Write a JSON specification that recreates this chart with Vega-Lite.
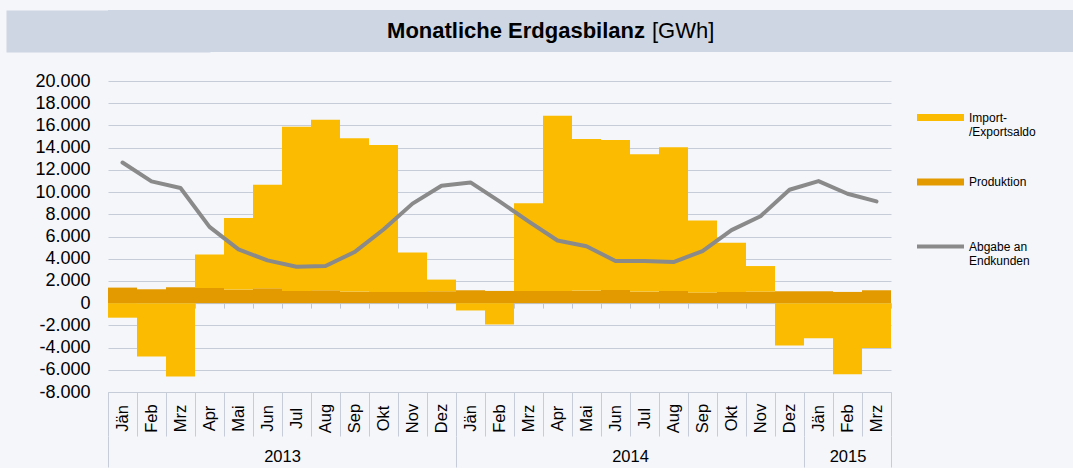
{
  "$schema": "https://vega.github.io/schema/vega-lite/v6.json",
  "background": "#f4f6fa",
  "padding": {"left": 6, "top": 10, "right": 0, "bottom": 0},
  "config": {
    "font": "Liberation Sans",
    "view": {"stroke": null},
    "axisY": {"labelOverlap": false, "tickCount": 30},
    "locale": {"number": {"decimal": ",", "thousands": ".", "grouping": [3], "currency": ["", " €"], "minus": "-"}}
  },
  "spacing": 20,
  "vconcat": [
    {
      "width": 965,
      "height": 42,
      "view": {"fill": "#cdd6e2", "stroke": null},
      "data": {"values": [{}]},
      "layer": [
        {"mark": {"type": "text", "align": "right", "baseline": "middle", "dx": 54.5, "fontSize": 22, "fontWeight": "bold", "font": "Liberation Sans", "color": "#000000"},
         "encoding": {
           "text": {"value": "Monatliche Erdgasbilanz"},
           "y": {"datum": 0, "type": "quantitative", "scale": {"domain": [-1, 1], "nice": false},
                 "axis": {"orient": "left", "title": null, "labels": false, "ticks": false, "grid": false,
                          "domain": true, "domainColor": "#cdd6e2", "domainWidth": 204, "domainCap": "butt", "minExtent": 102}}
         }},
        {"mark": {"type": "text", "align": "left", "baseline": "middle", "dx": 61.5, "fontSize": 22, "fontWeight": "normal", "font": "Liberation Sans", "color": "#000000"},
         "encoding": {"text": {"value": "[GWh]"}, "y": {"datum": 0, "type": "quantitative"}}}
      ]
    },
    {
      "width": 783,
      "height": 311,
      "data": {"values": [
        {"monat": "Jän 2013", "serie": "Produktion", "wert": 1400}, {"monat": "Jän 2013", "serie": "Import-/Exportsaldo", "wert": -1310}, {"monat": "Jän 2013", "serie": "Abgabe an Endkunden", "wert": 12660},
        {"monat": "Feb 2013", "serie": "Produktion", "wert": 1250}, {"monat": "Feb 2013", "serie": "Import-/Exportsaldo", "wert": -4810}, {"monat": "Feb 2013", "serie": "Abgabe an Endkunden", "wert": 10960},
        {"monat": "Mrz 2013", "serie": "Produktion", "wert": 1430}, {"monat": "Mrz 2013", "serie": "Import-/Exportsaldo", "wert": -6600}, {"monat": "Mrz 2013", "serie": "Abgabe an Endkunden", "wert": 10360},
        {"monat": "Apr 2013", "serie": "Produktion", "wert": 1370}, {"monat": "Apr 2013", "serie": "Import-/Exportsaldo", "wert": 3020}, {"monat": "Apr 2013", "serie": "Abgabe an Endkunden", "wert": 6870},
        {"monat": "Mai 2013", "serie": "Produktion", "wert": 1220}, {"monat": "Mai 2013", "serie": "Import-/Exportsaldo", "wert": 6450}, {"monat": "Mai 2013", "serie": "Abgabe an Endkunden", "wert": 4840},
        {"monat": "Jun 2013", "serie": "Produktion", "wert": 1340}, {"monat": "Jun 2013", "serie": "Import-/Exportsaldo", "wert": 9320}, {"monat": "Jun 2013", "serie": "Abgabe an Endkunden", "wert": 3850},
        {"monat": "Jul 2013", "serie": "Produktion", "wert": 1100}, {"monat": "Jul 2013", "serie": "Import-/Exportsaldo", "wert": 14780}, {"monat": "Jul 2013", "serie": "Abgabe an Endkunden", "wert": 3280},
        {"monat": "Aug 2013", "serie": "Produktion", "wert": 1160}, {"monat": "Aug 2013", "serie": "Import-/Exportsaldo", "wert": 15350}, {"monat": "Aug 2013", "serie": "Abgabe an Endkunden", "wert": 3340},
        {"monat": "Sep 2013", "serie": "Produktion", "wert": 1040}, {"monat": "Sep 2013", "serie": "Import-/Exportsaldo", "wert": 13800}, {"monat": "Sep 2013", "serie": "Abgabe an Endkunden", "wert": 4600},
        {"monat": "Okt 2013", "serie": "Produktion", "wert": 1010}, {"monat": "Okt 2013", "serie": "Import-/Exportsaldo", "wert": 13230}, {"monat": "Okt 2013", "serie": "Abgabe an Endkunden", "wert": 6630},
        {"monat": "Nov 2013", "serie": "Produktion", "wert": 1010}, {"monat": "Nov 2013", "serie": "Import-/Exportsaldo", "wert": 3560}, {"monat": "Nov 2013", "serie": "Abgabe an Endkunden", "wert": 8960},
        {"monat": "Dez 2013", "serie": "Produktion", "wert": 1070}, {"monat": "Dez 2013", "serie": "Import-/Exportsaldo", "wert": 1050}, {"monat": "Dez 2013", "serie": "Abgabe an Endkunden", "wert": 10570},
        {"monat": "Jän 2014", "serie": "Produktion", "wert": 1160}, {"monat": "Jän 2014", "serie": "Import-/Exportsaldo", "wert": -660}, {"monat": "Jän 2014", "serie": "Abgabe an Endkunden", "wert": 10870},
        {"monat": "Feb 2014", "serie": "Produktion", "wert": 1100}, {"monat": "Feb 2014", "serie": "Import-/Exportsaldo", "wert": -1920}, {"monat": "Feb 2014", "serie": "Abgabe an Endkunden", "wert": 9160},
        {"monat": "Mrz 2014", "serie": "Produktion", "wert": 1100}, {"monat": "Mrz 2014", "serie": "Import-/Exportsaldo", "wert": 7890}, {"monat": "Mrz 2014", "serie": "Abgabe an Endkunden", "wert": 7370},
        {"monat": "Apr 2014", "serie": "Produktion", "wert": 1100}, {"monat": "Apr 2014", "serie": "Import-/Exportsaldo", "wert": 15770}, {"monat": "Apr 2014", "serie": "Abgabe an Endkunden", "wert": 5640},
        {"monat": "Mai 2014", "serie": "Produktion", "wert": 1130}, {"monat": "Mai 2014", "serie": "Import-/Exportsaldo", "wert": 13650}, {"monat": "Mai 2014", "serie": "Abgabe an Endkunden", "wert": 5130},
        {"monat": "Jun 2014", "serie": "Produktion", "wert": 1190}, {"monat": "Jun 2014", "serie": "Import-/Exportsaldo", "wert": 13500}, {"monat": "Jun 2014", "serie": "Abgabe an Endkunden", "wert": 3790},
        {"monat": "Jul 2014", "serie": "Produktion", "wert": 1040}, {"monat": "Jul 2014", "serie": "Import-/Exportsaldo", "wert": 12360}, {"monat": "Jul 2014", "serie": "Abgabe an Endkunden", "wert": 3790},
        {"monat": "Aug 2014", "serie": "Produktion", "wert": 1100}, {"monat": "Aug 2014", "serie": "Import-/Exportsaldo", "wert": 12930}, {"monat": "Aug 2014", "serie": "Abgabe an Endkunden", "wert": 3700},
        {"monat": "Sep 2014", "serie": "Produktion", "wert": 960}, {"monat": "Sep 2014", "serie": "Import-/Exportsaldo", "wert": 6470}, {"monat": "Sep 2014", "serie": "Abgabe an Endkunden", "wert": 4690},
        {"monat": "Okt 2014", "serie": "Produktion", "wert": 1010}, {"monat": "Okt 2014", "serie": "Import-/Exportsaldo", "wert": 4420}, {"monat": "Okt 2014", "serie": "Abgabe an Endkunden", "wert": 6570},
        {"monat": "Nov 2014", "serie": "Produktion", "wert": 1040}, {"monat": "Nov 2014", "serie": "Import-/Exportsaldo", "wert": 2300}, {"monat": "Nov 2014", "serie": "Abgabe an Endkunden", "wert": 7820},
        {"monat": "Dez 2014", "serie": "Produktion", "wert": 1070}, {"monat": "Dez 2014", "serie": "Import-/Exportsaldo", "wert": -3820}, {"monat": "Dez 2014", "serie": "Abgabe an Endkunden", "wert": 10210},
        {"monat": "Jän 2015", "serie": "Produktion", "wert": 1070}, {"monat": "Jän 2015", "serie": "Import-/Exportsaldo", "wert": -3160}, {"monat": "Jän 2015", "serie": "Abgabe an Endkunden", "wert": 10990},
        {"monat": "Feb 2015", "serie": "Produktion", "wert": 1010}, {"monat": "Feb 2015", "serie": "Import-/Exportsaldo", "wert": -6410}, {"monat": "Feb 2015", "serie": "Abgabe an Endkunden", "wert": 9850},
        {"monat": "Mrz 2015", "serie": "Produktion", "wert": 1160}, {"monat": "Mrz 2015", "serie": "Import-/Exportsaldo", "wert": -4030}, {"monat": "Mrz 2015", "serie": "Abgabe an Endkunden", "wert": 9160}
      ]},
      "resolve": {"axis": {"x": "independent"}},
      "layer": [
        {
          "transform": [{"filter": "datum.serie !== 'Abgabe an Endkunden'"}],
          "mark": {"type": "bar"},
          "encoding": {
            "x": {
              "field": "monat", "type": "nominal", "sort": null,
              "scale": {"paddingInner": 0, "paddingOuter": 0},
              "axis": {
                "orient": "bottom", "title": null, "grid": false,
                "tickBand": "extent", "tickSize": 44, "tickColor": "#c6cdd8", "tickWidth": 1,
                "domain": true, "domainColor": "#c6cdd8", "domainWidth": 1,
                "labelAngle": -90, "labelAlign": "center", "labelBaseline": "middle", "labelPadding": -18,
                "labelFontSize": 16.5, "labelColor": "#000000", "labelFont": "Liberation Sans",
                "labelExpr": "split(datum.label, ' ')[0]", "labelOverlap": false, "labelBound": false
              }
            },
            "y": {
              "field": "wert", "type": "quantitative", "stack": "zero",
              "scale": {"domain": [-8000, 20000], "nice": false, "zero": false},
              "axis": {
                "title": null, "values": [-8000, -6000, -4000, -2000, 0, 2000, 4000, 6000, 8000, 10000, 12000, 14000, 16000, 18000, 20000],
                "tickCount": 30,
                "format": ",.0f", "grid": true, "gridColor": "#c6cdd9", "gridWidth": 1, "labelOverlap": false,
                "domain": false, "ticks": false, "labelPadding": 18, "labelFontSize": 18,
                "labelColor": "#000000", "labelFont": "Liberation Sans", "minExtent": 102
              }
            },
            "color": {
              "field": "serie", "type": "nominal",
              "scale": {"domain": ["Import-/Exportsaldo", "Produktion", "Abgabe an Endkunden"], "range": ["#fbbb00", "#e39a00", "#8a8a8a"]},
              "legend": {
                "orient": "none", "legendX": 809, "legendY": 84, "direction": "vertical",
                "title": null, "padding": 0, "rowPadding": 20.5,
                "symbolSize": 2209, "symbolType": "M-1,-0.15L1,-0.15L1,0.15L-1,0.15Z", "symbolStrokeWidth": 0,
                "labelFontSize": 12, "labelFont": "Liberation Sans", "labelColor": "#000000",
                "labelOffset": 5, "labelLimit": 200, "labelLineHeight": 13.5, "labelBaseline": "middle",
                "labelExpr": "datum.label === 'Import-/Exportsaldo' ? ['Import-', '/Exportsaldo'] : datum.label === 'Abgabe an Endkunden' ? ['Abgabe an', 'Endkunden'] : [datum.label, '']",
                "encode": {
                  "symbols": {"update": {"shape": {"signal": "datum.value === 'Abgabe an Endkunden' ? 'M-1,-0.085L1,-0.085L1,0.085L-1,0.085Z' : 'M-1,-0.15L1,-0.15L1,0.15L-1,0.15Z'"}}}
                }
              }
            },
            "order": {"field": "serie", "sort": "descending"}
          }
        },
        {
          "transform": [{"filter": "datum.serie === 'Abgabe an Endkunden'"}],
          "mark": {"type": "line", "color": "#8a8a8a", "strokeWidth": 4, "strokeCap": "round", "strokeJoin": "round"},
          "encoding": {
            "x": {
              "field": "monat", "type": "nominal", "sort": null,
              "axis": {
                "orient": "bottom", "offset": 44, "title": null, "grid": false, "domain": false,
                "tickBand": "extent", "tickSize": 31, "tickColor": "#c6cdd8", "tickWidth": 1,
                "tickOpacity": {"condition": {"test": "datum.value === 'Dez 2013' || datum.value === 'Dez 2014' || datum.value === 'Mrz 2015' || !datum.value", "value": 1}, "value": 0},
                "values": ["Jän 2013", "Jun 2013", "Dez 2013", "Jun 2014", "Dez 2014", "Feb 2015", "Mrz 2015"],
                "labelExpr": "datum.value === 'Jun 2013' ? '2013' : datum.value === 'Jun 2014' ? '2014' : datum.value === 'Feb 2015' ? '2015' : ''",
                "labelOffset": {"condition": {"test": "datum.value === 'Feb 2015'", "value": 0}, "value": 14.5},
                "labelAngle": 0, "labelAlign": "center", "labelBaseline": "middle", "labelPadding": -11,
                "labelFontSize": 16.5, "labelColor": "#000000", "labelFont": "Liberation Sans",
                "labelOverlap": false, "labelBound": false
              }
            },
            "y": {"field": "wert", "type": "quantitative"}
          }
        },
        {
          "transform": [{"filter": "datum.serie === 'Produktion'"}],
          "mark": {"type": "text", "text": ""},
          "encoding": {
            "x": {
              "field": "monat", "type": "nominal", "sort": null,
              "axis": {
                "orient": "bottom", "offset": -88.9, "title": null, "grid": false, "labels": false,
                "domain": true, "domainColor": "#bfc6d1", "domainWidth": 1,
                "tickBand": "extent", "tickSize": 5, "tickColor": "#bfc6d1", "tickWidth": 1
              }
            },
            "y": {"datum": 0}
          }
        }
      ]
    }
  ]
}
